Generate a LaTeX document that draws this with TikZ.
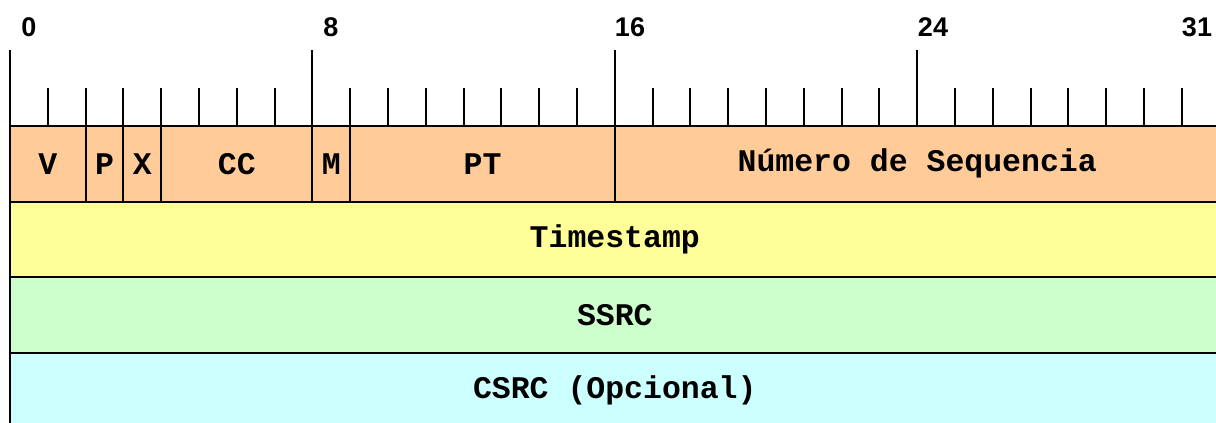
\documentclass[tikz,border=0pt]{standalone}
\usepackage{fontspec}
\setmainfont{Liberation Sans}
\newfontfamily\monofont{Liberation Mono}
\usepackage{tikz}
\usetikzlibrary{positioning}

\definecolor{hdrcol}{HTML}{FFCC99}
\definecolor{tscol}{HTML}{FFFF99}
\definecolor{ssrccol}{HTML}{CCFFCC}
\definecolor{csrccol}{HTML}{CCFFFF}

\begin{document}
\begin{tikzpicture}[x=1pt,y=-1pt,
  field/.style={draw,line width=2pt,fill=hdrcol,minimum height=75.5,inner sep=0pt,outer sep=0pt,
    font=\monofont\bfseries\fontsize{31.5}{34}\selectfont},
  word/.style={field,minimum width=32*\bw},
  bitnum/.style={font=\bfseries\fontsize{27}{30}\selectfont,inner sep=0pt}]
\def\bw{37.8}
\useasboundingbox (0,0) rectangle (1216,423);

% first word
\node[field,anchor=north west,minimum width=2*\bw] (v) at (10,126) {V};
\node[field,right=0pt of v,minimum width=\bw] (p) {P};
\node[field,right=0pt of p,minimum width=\bw] (x) {X};
\node[field,right=0pt of x,minimum width=4*\bw] (cc) {CC};
\node[field,right=0pt of cc,minimum width=\bw] (m) {M};
\node[field,right=0pt of m,minimum width=7*\bw] (pt) {PT};
\node[field,right=0pt of pt,minimum width=16*\bw] (seq) {Número de Sequencia};

% the other words
\node[word,fill=tscol,anchor=north west] (ts) at (v.south west) {Timestamp};
\node[word,fill=ssrccol,below=0pt of ts] (ssrc) {SSRC};
\node[word,fill=csrccol,below=0pt of ssrc] (csrc) {CSRC (Opcional)};

% ruler
\foreach \i in {1,...,31}
  \draw[line width=2pt] (\i*\bw+10,88) -- (\i*\bw+10,126);
\foreach \i in {8,16,24}
  \draw[line width=2pt] (\i*\bw+10,50) -- (\i*\bw+10,126);
\draw[line width=2pt] (10,50) -- (10,423);

\node[bitnum] (n0) at (29,27) {0};
\node[bitnum] (n8) at (331,27) {8};
\node[bitnum] (n16) at (630,27) {16};
\node[bitnum] (n24) at (933,27) {24};
\node[bitnum] (n31) at (1197,27) {31};
\end{tikzpicture}
\end{document}
